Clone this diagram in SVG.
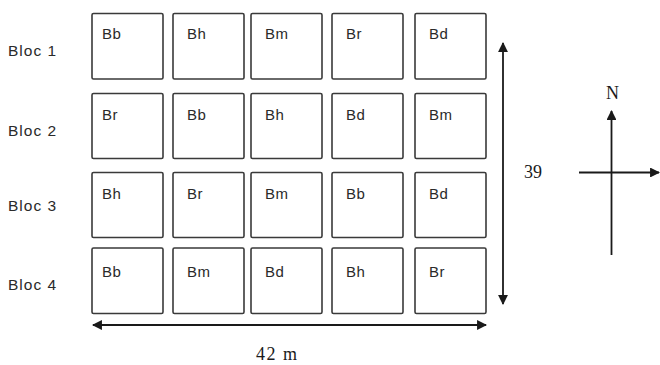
<svg xmlns="http://www.w3.org/2000/svg" width="660" height="365" viewBox="0 0 660 365">
  <defs>
    <style>
      .plot rect { fill: #ffffff; stroke: #3a3a3a; stroke-width: 1.6; }
      .plot text { font-family: "Liberation Sans", Arial, sans-serif; font-size: 15px; fill: #2a2a2a; letter-spacing: 0.6px; }
      .bloc { font-family: "Liberation Sans", Arial, sans-serif; font-size: 15.5px; fill: #2a2a2a; letter-spacing: 1px; }
      .dim { font-family: "Liberation Serif", "Times New Roman", serif; font-size: 18px; fill: #1a1a1a; }
      .conn line { stroke: #1a1a1a; stroke-width: 1.8; }
    </style>
    <marker id="ah" viewBox="0 0 10 10" refX="9" refY="5" markerWidth="5.5" markerHeight="5.5" orient="auto-start-reverse" markerUnits="strokeWidth">
      <path d="M0,0 L10,5 L0,10 Z" fill="#1a1a1a"/>
    </marker>
  </defs>
  <rect width="660" height="365" fill="#ffffff"/>

  <!-- block labels -->
  <text class="bloc" x="8" y="56">Bloc 1</text>
  <text class="bloc" x="8" y="136">Bloc 2</text>
  <text class="bloc" x="8" y="211">Bloc 3</text>
  <text class="bloc" x="8" y="290">Bloc 4</text>

  <!-- Bloc 1 -->
  <g id="b1c1" class="plot"><rect x="92" y="13.5" width="71" height="65.5" rx="1.5"/><text x="102" y="39">Bb</text></g>
  <g id="b1c2" class="plot"><rect x="173" y="13.5" width="71" height="65.5" rx="1.5"/><text x="187" y="39">Bh</text></g>
  <g id="b1c3" class="plot"><rect x="251" y="13.5" width="71" height="65.5" rx="1.5"/><text x="265" y="39">Bm</text></g>
  <g id="b1c4" class="plot"><rect x="332" y="13.5" width="71" height="65.5" rx="1.5"/><text x="346" y="39">Br</text></g>
  <g id="b1c5" class="plot"><rect x="415" y="13.5" width="71" height="65.5" rx="1.5"/><text x="429" y="39">Bd</text></g>

  <!-- Bloc 2 -->
  <g id="b2c1" class="plot"><rect x="92" y="93.5" width="71" height="65" rx="1.5"/><text x="102" y="120">Br</text></g>
  <g id="b2c2" class="plot"><rect x="173" y="93.5" width="71" height="65" rx="1.5"/><text x="187" y="120">Bb</text></g>
  <g id="b2c3" class="plot"><rect x="251" y="93.5" width="71" height="65" rx="1.5"/><text x="265" y="120">Bh</text></g>
  <g id="b2c4" class="plot"><rect x="332" y="93.5" width="71" height="65" rx="1.5"/><text x="346" y="120">Bd</text></g>
  <g id="b2c5" class="plot"><rect x="415" y="93.5" width="71" height="65" rx="1.5"/><text x="429" y="120">Bm</text></g>

  <!-- Bloc 3 -->
  <g id="b3c1" class="plot"><rect x="92" y="172.5" width="71" height="65" rx="1.5"/><text x="102" y="199">Bh</text></g>
  <g id="b3c2" class="plot"><rect x="173" y="172.5" width="71" height="65" rx="1.5"/><text x="187" y="199">Br</text></g>
  <g id="b3c3" class="plot"><rect x="251" y="172.5" width="71" height="65" rx="1.5"/><text x="265" y="199">Bm</text></g>
  <g id="b3c4" class="plot"><rect x="332" y="172.5" width="71" height="65" rx="1.5"/><text x="346" y="199">Bb</text></g>
  <g id="b3c5" class="plot"><rect x="415" y="172.5" width="71" height="65" rx="1.5"/><text x="429" y="199">Bd</text></g>

  <!-- Bloc 4 -->
  <g id="b4c1" class="plot"><rect x="92" y="248" width="71" height="65.5" rx="1.5"/><text x="102" y="277">Bb</text></g>
  <g id="b4c2" class="plot"><rect x="173" y="248" width="71" height="65.5" rx="1.5"/><text x="187" y="277">Bm</text></g>
  <g id="b4c3" class="plot"><rect x="251" y="248" width="71" height="65.5" rx="1.5"/><text x="265" y="277">Bd</text></g>
  <g id="b4c4" class="plot"><rect x="332" y="248" width="71" height="65.5" rx="1.5"/><text x="346" y="277">Bh</text></g>
  <g id="b4c5" class="plot"><rect x="415" y="248" width="71" height="65.5" rx="1.5"/><text x="429" y="277">Br</text></g>

  <!-- dimension arrows and compass -->
  <g id="connectors" class="conn">
    <line x1="503" y1="43" x2="503" y2="304" marker-start="url(#ah)" marker-end="url(#ah)"/>
    <line x1="93" y1="325" x2="486" y2="325" marker-start="url(#ah)" marker-end="url(#ah)"/>
    <line x1="611.5" y1="255" x2="611.5" y2="111" marker-end="url(#ah)"/>
    <line x1="579" y1="172.5" x2="659" y2="172.5" marker-end="url(#ah)"/>
  </g>

  <text class="dim" x="524" y="178">39</text>
  <text class="dim" x="256" y="360" letter-spacing="1.5">42 m</text>
  <text class="dim" x="606" y="99">N</text>
</svg>
